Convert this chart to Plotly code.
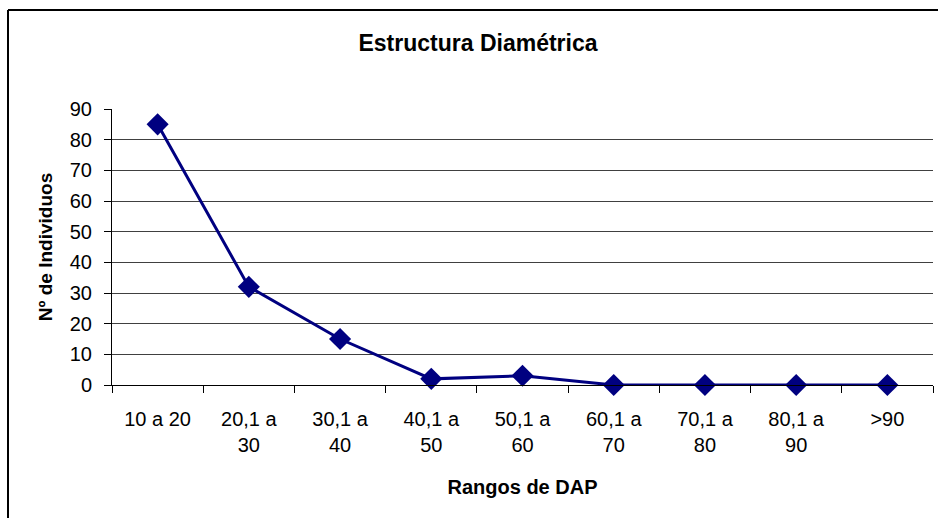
import plotly.graph_objects as go

# Diameter classes (DAP, cm) and number of trees per class
rangos = ["10 a 20", "20,1 a<br>30", "30,1 a<br>40", "40,1 a<br>50", "50,1 a<br>60",
          "60,1 a<br>70", "70,1 a<br>80", "80,1 a<br>90", ">90"]
individuos = [85, 32, 15, 2, 3, 0, 0, 0, 0]
y_ticks = [0, 10, 20, 30, 40, 50, 60, 70, 80, 90]

W, H = 938, 518
ML, MR, MT, MB = 112, 5, 109, 133
FONT = "Liberation Sans, Arial, sans-serif"
NAVY = "#000080"

fig = go.Figure(
    go.Scatter(
        x=rangos,
        y=individuos,
        mode="lines+markers",
        line=dict(color=NAVY, width=3),
        marker=dict(symbol="diamond", size=17, color=NAVY),
        cliponaxis=False,
        hoverinfo="x+y",
    )
)

# Outer frame of the chart area (top and left edges visible), in paper units
pw, ph = W - ML - MR, H - MT - MB
fx0 = (8 - ML) / pw
fy1 = (H - MB - 10) / ph
fig.add_shape(type="line", xref="paper", yref="paper",
              x0=fx0, x1=1.2, y0=fy1, y1=fy1, line=dict(color="black", width=2))
fig.add_shape(type="line", xref="paper", yref="paper",
              x0=fx0, x1=fx0, y0=fy1, y1=-0.6, line=dict(color="black", width=2))

fig.update_layout(
    width=W, height=H,
    margin=dict(l=ML, r=MR, t=MT, b=MB),
    paper_bgcolor="white", plot_bgcolor="white",
    showlegend=False,
    font=dict(family=FONT, color="black", size=20),
    title=dict(text="<b>Estructura Diamétrica</b>", x=478 / W, xanchor="center",
               y=1 - 43 / H, yanchor="middle", yref="container",
               font=dict(family=FONT, size=23, color="black")),
    xaxis=dict(
        type="category",
        tickson="boundaries",
        ticks="outside", ticklen=7, tickcolor="black",
        showline=True, linecolor="black", linewidth=1,
        showgrid=False,
        tickfont=dict(size=20),
        ticklabelstandoff=16,
        title=dict(text="<b>Rangos de DAP</b>", font=dict(size=20), standoff=24),
        range=[-0.5, len(rangos) - 0.5],
    ),
    yaxis=dict(
        range=[0, 90],
        tickvals=y_ticks,
        ticks="outside", ticklen=7, tickcolor="black",
        showline=True, linecolor="black", linewidth=1,
        showgrid=True, gridcolor="#404040", gridwidth=1,
        zeroline=False,
        tickfont=dict(size=20),
        ticklabelstandoff=8,
        title=dict(text="<b>Nº de Individuos</b>", font=dict(size=19), standoff=12),
    ),
)

fig.write_html("out.html")
